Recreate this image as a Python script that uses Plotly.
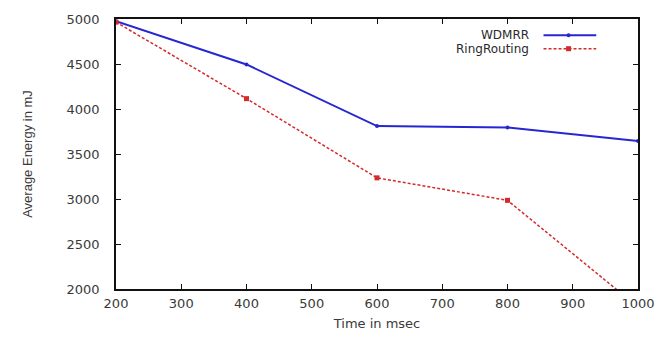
import plotly.graph_objects as go

time_ms = [200, 400, 600, 800, 1000]
wdmrr = [4975, 4495, 3810, 3795, 3645]
ring_routing = [4965, 4115, 3235, 2985, 1800]
x_ticks = [200, 300, 400, 500, 600, 700, 800, 900, 1000]
y_ticks = [2000, 2500, 3000, 3500, 4000, 4500, 5000]

BLUE = "#2626d2"
RED = "#d42a2a"
WIDE = "DejaVu Sans, Verdana, sans-serif"
TXT = "#3a3a3a"

fig = go.Figure()
fig.add_trace(go.Scatter(
    x=time_ms, y=wdmrr, mode="lines+markers", name="WDMRR",
    line=dict(color=BLUE, width=2),
    marker=dict(symbol="circle", size=4, color=BLUE),
    showlegend=False,
))
fig.add_trace(go.Scatter(
    x=time_ms, y=ring_routing, mode="lines+markers", name="RingRouting",
    line=dict(color=RED, width=1.5, dash="3px,2px"),
    marker=dict(symbol="square", size=5, color=RED),
    showlegend=False,
))

# legend drawn gnuplot-style: right-aligned text with the sample on its right
legend_items = [("WDMRR", BLUE, "solid", "circle", 2), ("RingRouting", RED, "3px,2px", "rect", 2.5)]
for i, (label, col, dash, shp, half) in enumerate(legend_items):
    yp = 0.94 - i * 0.05
    fig.add_annotation(x=0.795, y=yp, xref="paper", yref="paper", text=label,
                       showarrow=False, xanchor="right", yanchor="middle",
                       font=dict(family=WIDE, size=12, color="#2a2a2a"))
    fig.add_shape(type="line", xref="paper", yref="paper",
                  x0=0.819, x1=0.92, y0=yp, y1=yp,
                  line=dict(color=col, width=2 if dash == "solid" else 1.5, dash=dash))
    fig.add_shape(type=shp, xref="paper", yref="paper",
                  xsizemode="pixel", ysizemode="pixel", xanchor=0.867, yanchor=yp,
                  x0=-half, x1=half, y0=-half, y1=half,
                  fillcolor=col, line=dict(color=col, width=0))

fig.update_layout(
    width=667, height=341,
    margin=dict(l=116, r=24, t=14, b=49),
    paper_bgcolor="white", plot_bgcolor="white",
    font=dict(family=WIDE, size=13, color=TXT),
    xaxis=dict(range=[200, 1000], tickvals=x_ticks, ticks="inside", ticklen=5,
               tickcolor="#111", showline=True, linecolor="#111", linewidth=1.5,
               mirror="ticks", showgrid=False, zeroline=False,
               ticklabelstandoff=2,
               tickfont=dict(family=WIDE, size=13, color=TXT),
               title=dict(text="Time in msec", font=dict(family=WIDE, size=13, color=TXT), standoff=9)),
    yaxis=dict(range=[2000, 5000], tickvals=y_ticks, ticks="inside", ticklen=5,
               tickcolor="#111", showline=True, linecolor="#111", linewidth=1.5,
               mirror="ticks", showgrid=False, zeroline=False,
               ticklabelstandoff=12,
               tickfont=dict(family=WIDE, size=13, color=TXT),
               title=dict(text="Average Energy in mJ",
                          font=dict(family="Liberation Sans, Arial, sans-serif", size=13, color=TXT),
                          standoff=31)),
)

fig.write_html("out.html", config={"displayModeBar": False},
               post_script="document.body.style.margin='0';")
